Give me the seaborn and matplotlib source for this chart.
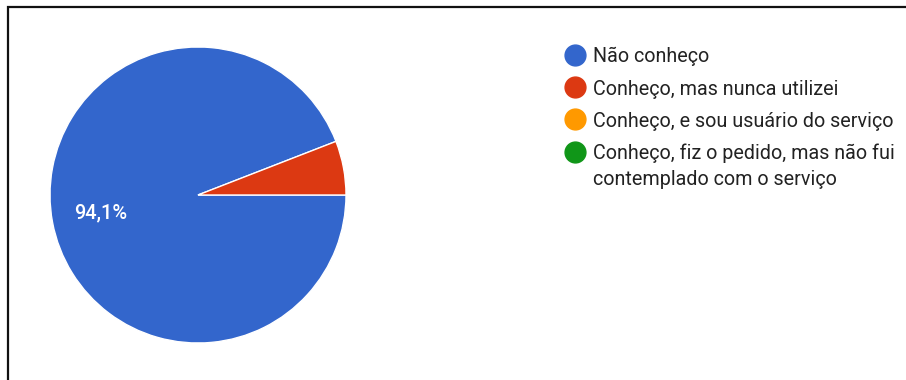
import matplotlib
matplotlib.use("Agg")
import matplotlib.pyplot as plt
from matplotlib.lines import Line2D
from matplotlib.patches import Rectangle
import seaborn as sns

categories = [
    "Não conheço",
    "Conheço, mas nunca utilizei",
    "Conheço, e sou usuário do serviço",
    "Conheço, fiz o pedido, mas não fui\ncontemplado com o serviço",
]
values = [94.1, 5.9, 0.0, 0.0]
colors = ["#3366cc", "#dc3912", "#ff9900", "#109618"]

sns.set_theme(style="white")
plt.rcParams["font.family"] = ["Roboto", "DejaVu Sans"]

W, H = 906, 380
fig = plt.figure(figsize=(W / 100, H / 100), dpi=100)
fig.patch.set_facecolor("white")

# frame
fig.patches.append(Rectangle((8 / W, -0.1), 1.2, (H - 7) / H + 0.1,
                             transform=fig.transFigure, fill=False,
                             edgecolor="#111111", linewidth=1.6, zorder=10))

ax = fig.add_axes([50 / W, 37 / H, 296 / W, 296 / H])
pv = [v for v in values if v > 0]
pc = [c for v, c in zip(values, colors) if v > 0]


def fmt(p):
    return f"{p:.1f}%".replace(".", ",") if p > 10 else ""


wedges, texts, autotexts = ax.pie(
    pv, colors=pc, startangle=0, counterclock=False,
    autopct=fmt, pctdistance=0.67,
    wedgeprops=dict(edgecolor="white", linewidth=1.0),
    textprops=dict(color="white", fontsize=14.4, fontweight="medium"),
)
ax.set_xlim(-1, 1)
ax.set_ylim(-1, 1)
ax.set_aspect("equal")
ax.axis("off")

# legend (Google-charts style, first line aligned with the dot)
fs = 14.2
for i, (cat, col) in enumerate(zip(categories, colors)):
    yc = 55 + i * 32.2
    fig.add_artist(Line2D([574.5 / W], [1 - yc / H], marker="o",
                          linestyle="", markersize=15,
                          markerfacecolor=col, markeredgecolor=col,
                          transform=fig.transFigure))
    for j, line in enumerate(cat.split("\n")):
        fig.text(593 / W, 1 - (yc + 7.5 + j * 25.5) / H, line, fontsize=fs,
                 color="#222222", va="baseline", ha="left")

fig.savefig("out.png", dpi=100, facecolor="white")
